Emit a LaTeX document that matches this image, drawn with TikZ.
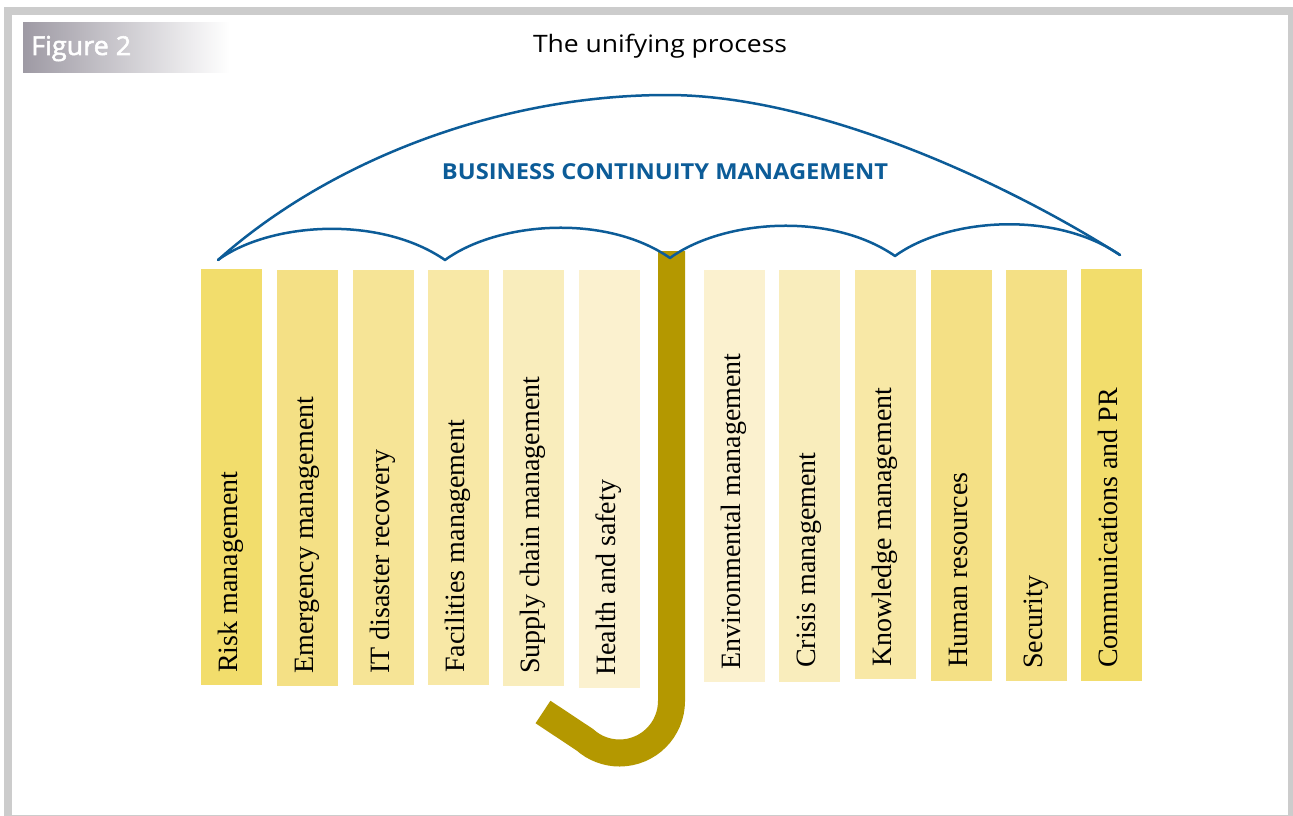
\documentclass[tikz,border=0pt]{standalone}
\usepackage{fontspec}
\usepackage{graphicx}
\newfontfamily\osans{Open Sans}
\newfontfamily\osansmed{Open Sans}[FakeBold=2]
\newfontfamily\barfont{Liberation Serif}
\newcommand\fitw[2]{\resizebox{#1}{\height}{#2}}
\definecolor{framegray}{RGB}{204,204,204}
\definecolor{figgray}{RGB}{158,154,164}
\definecolor{umbblue}{RGB}{12,92,152}
\definecolor{handle}{RGB}{180,152,0}
\definecolor{ca}{RGB}{242,221,108}
\definecolor{cb}{RGB}{244,224,133}
\definecolor{cc}{RGB}{246,228,150}
\definecolor{cd}{RGB}{248,232,166}
\definecolor{ce}{RGB}{249,237,188}
\definecolor{cf}{RGB}{251,241,207}
\tikzset{
  umb/.style={draw=umbblue, line width=2.5pt, line cap=round, line join=round},
  barlbl/.style={rotate=90, anchor=base west, inner sep=0pt, font=\barfont\fontsize{28}{32}\selectfont},
}
\begin{document}
\begin{tikzpicture}[x=1pt,y=-1pt]
\useasboundingbox (0,0) rectangle (1293,816);
\fill[white] (0,0) rectangle (1293,816);
% frame
\draw[framegray, line width=8pt] (8,11) rectangle (1292,819);
% figure label
\shade[left color=figgray, right color=white] (23,23) rectangle (230,73);
\node[anchor=base west, inner sep=0pt, text=white, font=\osansmed\fontsize{26}{30}\selectfont] (fig) at (31,55) {\fitw{100pt}{Figure 2}};
% title
\node[anchor=base, inner sep=0pt, font=\osans\fontsize{24}{28}\selectfont] (title) at (660,53) {\fitw{254pt}{The unifying process}};
% bars
\foreach \x/\t/\b/\c/\n/\s/\txt in {
  201/269/685/ca/r1/673/Risk management,
  277/270/686/cb/r2/674/Emergency management,
  353/270/685/cc/r3/674/IT disaster recovery,
  428/270/685/cd/r4/673/Facilities management,
  503/270/686/ce/r5/674/Supply chain management,
  579/270/688/cf/r6/676/Health and safety,
  704/270/682/cf/r7/670/Environmental management,
  779/270/682/ce/r8/668/Crisis management,
  855/270/679/cd/r9/667/Knowledge management,
  931/270/681/cb/r10/668/Human resources,
  1006/270/681/cb/r11/669/Security,
  1081/269/681/ca/r12/668/Communications and PR}{
  \fill[\c] (\x,\t) rectangle ++(61,\b-\t);
  \node[barlbl] (\n) at (\x+36.5,\s) {\txt};
}
% handle
\draw[handle, line width=27pt] (671.5,251) -- (671.5,701) arc[start angle=0, end angle=131.8, radius=52] -- (543,712);
% canopy
\coordinate (p0) at (218,260);
\coordinate (p1) at (445,260);
\coordinate (p2) at (670,258);
\coordinate (p3) at (895,256);
\coordinate (p4) at (1120,255);
\coordinate (apex) at (667,95);
\draw[umb] (p0) .. controls (330,160) and (500,95) .. (apex)
               .. controls (820,95) and (1010,185) .. (p4);
\draw[umb] (p0) .. controls +(52,-38) and +(-65,-45) .. (p1)
               .. controls +(52,-38) and +(-65,-45) .. (p2)
               .. controls +(52,-38) and +(-65,-45) .. (p3)
               .. controls +(52,-38) and +(-65,-45) .. (p4);
\node[anchor=base, inner sep=0pt, text=umbblue, font=\osans\bfseries\fontsize{22}{26}\selectfont] (bcm) at (665,179) {\fitw{446pt}{BUSINESS CONTINUITY MANAGEMENT}};
\end{tikzpicture}
\end{document}
